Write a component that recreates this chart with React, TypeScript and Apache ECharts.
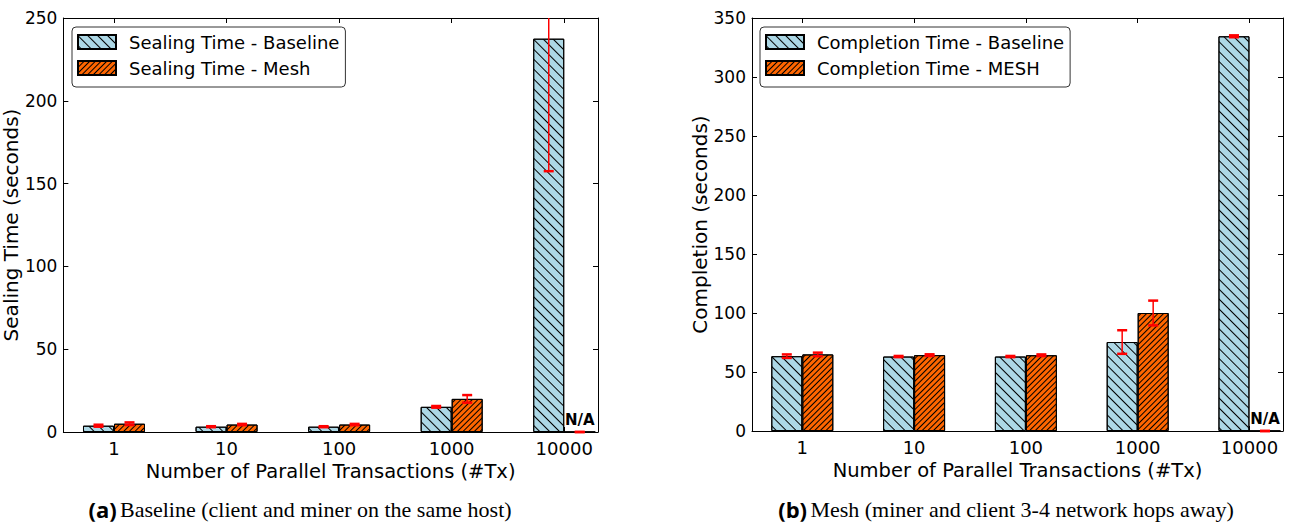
import React, { useEffect, useRef } from "react";
import * as echarts from "echarts";

const categories = ["1", "10", "100", "1000", "10000"];
const sealBaseline = [3.8, 3.2, 3.2, 15.2, 237.5];
const sealMesh = [5.0, 4.5, 4.5, 20.0, 0];
const sealBaselineErr = [0.6, 0.3, 0.3, 0.5, 80];
const sealMeshErr = [0.8, 0.4, 0.4, 2.3, 0];
const compBaseline = [63.4, 63.1, 63.1, 75.4, 334.5];
const compMesh = [64.9, 64.3, 64.2, 100, 0];
const compBaselineErr = [1.5, 0.5, 0.5, 10, 0.8];
const compMeshErr = [1.5, 0.7, 0.7, 10.5, 0];
const meshNA = [false, false, false, false, true];
const sealTicks = [0, 50, 100, 150, 200, 250];
const compTicks = [0, 50, 100, 150, 200, 250, 300, 350];
const legendLeft = ["Sealing Time - Baseline", "Sealing Time - Mesh"];
const legendRight = ["Completion Time - Baseline", "Completion Time - MESH"];

const FONT = "DejaVu Sans";
const BLUE = "#add8e6";
const ORANGE = "#ff6600";
const BAR_W = 31;
const X_MIN = -0.45;
const X_MAX = 4.3;

const decalBack = {
  symbol: "rect",
  symbolSize: 1,
  dashArrayX: [1, 0],
  dashArrayY: [1, 6],
  rotation: Math.PI / 4,
  color: "#000",
};
const decalFwd = {
  symbol: "rect",
  symbolSize: 1,
  dashArrayX: [1, 0],
  dashArrayY: [1, 3],
  rotation: -Math.PI / 4,
  color: "#000",
};

function xAxes(gridIndex: number) {
  const idx = categories.map((_, i) => i);
  return [
    {
      type: "value",
      gridIndex,
      position: "bottom",
      min: X_MIN,
      max: X_MAX,
      splitLine: { show: false },
      axisLine: { show: true, onZero: false, lineStyle: { color: "#000", width: 1 } },
      axisTick: { show: true, inside: true, length: 5, customValues: idx, lineStyle: { color: "#000" } },
      axisLabel: {
        show: true,
        customValues: idx,
        formatter: (v: number) => categories[Math.round(v)] ?? "",
        color: "#000",
        fontFamily: FONT,
        fontSize: 18,
        margin: 7,
      },
      name: "Number of Parallel Transactions (#Tx)",
      nameLocation: "middle",
      nameGap: 24,
      nameTextStyle: { color: "#000", fontFamily: FONT, fontSize: 19.5, verticalAlign: "top" },
    },
    {
      type: "value",
      gridIndex,
      position: "top",
      min: X_MIN,
      max: X_MAX,
      splitLine: { show: false },
      axisLine: { show: true, onZero: false, lineStyle: { color: "#000", width: 1 } },
      axisTick: { show: true, inside: true, length: 5, customValues: idx, lineStyle: { color: "#000" } },
      axisLabel: { show: false },
    },
  ];
}

function yAxes(gridIndex: number, ticks: number[], name: string) {
  const max = ticks[ticks.length - 1];
  const common = {
    type: "value",
    gridIndex,
    min: 0,
    max,
    interval: 50,
    splitLine: { show: false },
    axisLine: { show: true, onZero: false, lineStyle: { color: "#000", width: 1 } },
    axisTick: { show: true, inside: true, length: 5, lineStyle: { color: "#000" } },
  };
  return [
    {
      ...common,
      position: "left",
      axisLabel: { color: "#000", fontFamily: FONT, fontSize: 17, margin: 6 },
      name,
      nameLocation: "middle",
      nameGap: 33,
      nameTextStyle: { color: "#000", fontFamily: FONT, fontSize: 20 },
    },
    { ...common, position: "right", axisLabel: { show: false } },
  ];
}

function barSeries(name: string, vals: number[], xi: number, yi: number, color: string, decal: any, naFlags?: boolean[]) {
  return {
    type: "bar",
    name,
    xAxisIndex: xi,
    yAxisIndex: yi,
    barWidth: BAR_W,
    barGap: "0%",
    itemStyle: { color, borderColor: "#000", borderWidth: 1, decal },
    data: vals.map((v, i) => {
      if (naFlags && naFlags[i]) {
        return {
          value: [i, v],
          label: {
            show: true,
            formatter: "N/A",
            position: "top",
            distance: 4,
            color: "#000",
            fontFamily: FONT,
            fontWeight: "bold",
            fontSize: 15,
          },
        };
      }
      return [i, v];
    }),
  };
}

function errSeries(vals: number[], errs: number[], xi: number, yi: number, offset: number, ymax: number) {
  return {
    type: "custom",
    xAxisIndex: xi,
    yAxisIndex: yi,
    z: 10,
    silent: true,
    data: vals.map((v, i) => [i, v - errs[i], v + errs[i]]),
    renderItem: (_params: any, api: any) => {
      const x = api.value(0);
      const lo = Math.max(0, api.value(1));
      const hi = api.value(2);
      const hiC = Math.min(hi, ymax);
      const pLo = api.coord([x, lo]);
      const pHi = api.coord([x, hiC]);
      const cx = pLo[0] + offset;
      const stroke = { stroke: "#ff0000", lineWidth: 1.5 };
      const capStyle = { stroke: "#ff0000", lineWidth: 2.5 };
      const children: any[] = [
        { type: "line", shape: { x1: cx, y1: pLo[1], x2: cx, y2: pHi[1] }, style: stroke },
        { type: "line", shape: { x1: cx - 5, y1: pLo[1], x2: cx + 5, y2: pLo[1] }, style: capStyle },
      ];
      if (hi <= ymax) {
        children.push({ type: "line", shape: { x1: cx - 5, y1: pHi[1], x2: cx + 5, y2: pHi[1] }, style: capStyle });
      }
      return { type: "group", children };
    },
  };
}

function legend(names: string[], left: number) {
  return {
    data: names,
    orient: "vertical",
    left,
    top: 27,
    icon: "rect",
    itemWidth: 38,
    itemHeight: 14,
    itemGap: 6,
    padding: [5, 6, 9, 5],
    backgroundColor: "#fff",
    borderColor: "#333",
    borderWidth: 1,
    borderRadius: 4,
    textStyle: { color: "#000", fontFamily: FONT, fontSize: 18, lineHeight: 20, padding: [0, 0, 0, 8] },
  };
}

function caption(label: string, text: string, cx: number) {
  return {
    type: "text",
    x: cx,
    y: 509,
    style: {
      text: `{b|${label}} {s|${text}}`,
      align: "center",
      verticalAlign: "middle",
      rich: {
        b: { fontFamily: "Open Sans", fontWeight: "bold", fontSize: 22, fill: "#000" },
        s: { fontFamily: "Liberation Serif", fontSize: 22, fill: "#000" },
      },
    },
  };
}

export default function App() {
  const ref = useRef<HTMLDivElement>(null);
  useEffect(() => {
    if (!ref.current) return;
    const chart = echarts.init(ref.current, null, { renderer: "svg" });
    chart.setOption({
      animation: false,
      backgroundColor: "#fff",
      textStyle: { fontFamily: FONT },
      grid: [
        { left: 63, top: 18, width: 535, height: 414 },
        { left: 752, top: 18, width: 531, height: 413 },
      ],
      xAxis: [...xAxes(0), ...xAxes(1)],
      yAxis: [
        ...yAxes(0, sealTicks, "Sealing Time (seconds)"),
        ...yAxes(1, compTicks, "Completion (seconds)"),
      ],
      legend: [legend(legendLeft, 72), legend(legendRight, 760)],
      series: [
        barSeries(legendLeft[0], sealBaseline, 0, 0, BLUE, decalBack),
        barSeries(legendLeft[1], sealMesh, 0, 0, ORANGE, decalFwd, meshNA),
        errSeries(sealBaseline, sealBaselineErr, 0, 0, -BAR_W / 2, sealTicks[sealTicks.length - 1]),
        errSeries(sealMesh, sealMeshErr, 0, 0, BAR_W / 2, sealTicks[sealTicks.length - 1]),
        barSeries(legendRight[0], compBaseline, 2, 2, BLUE, decalBack),
        barSeries(legendRight[1], compMesh, 2, 2, ORANGE, decalFwd, meshNA),
        errSeries(compBaseline, compBaselineErr, 2, 2, -BAR_W / 2, compTicks[compTicks.length - 1]),
        errSeries(compMesh, compMeshErr, 2, 2, BAR_W / 2, compTicks[compTicks.length - 1]),
      ],
      graphic: [
        caption("(a)", "Baseline (client and miner on the same host)", 300),
        caption("(b)", "Mesh (miner and client 3-4 network hops away)", 1006),
      ],
    });
    return () => chart.dispose();
  }, []);
  return <div ref={ref} style={{ position: "fixed", left: 0, top: 0, width: 1290, height: 527 }} />;
}
